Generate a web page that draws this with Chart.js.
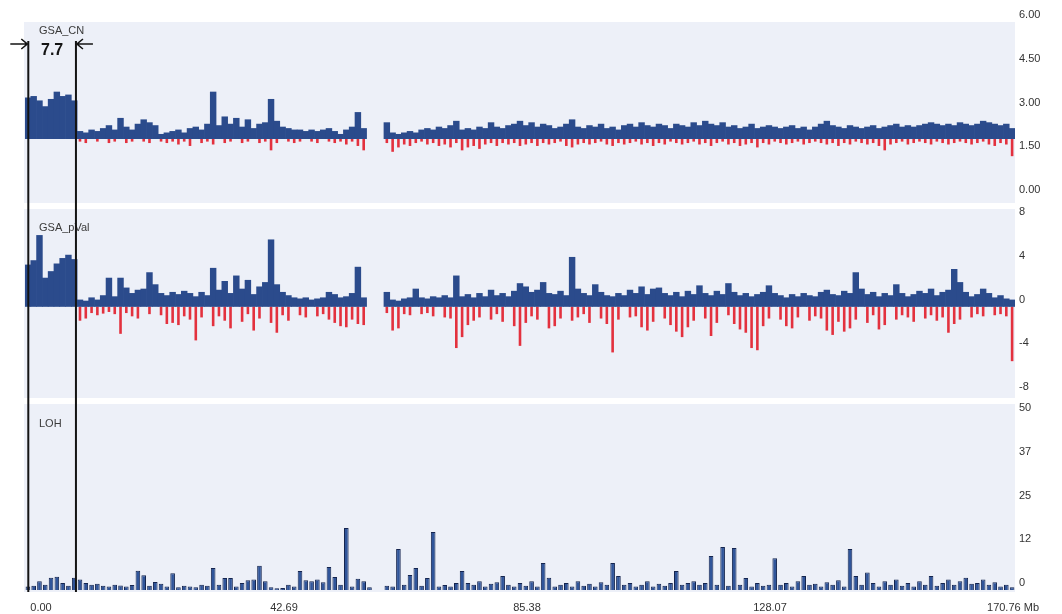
<!DOCTYPE html>
<html>
<head>
<meta charset="utf-8">
<script src="https://cdn.jsdelivr.net/npm/chart.js@4.4.1/dist/chart.umd.min.js"></script>
<style>
  html, body { margin: 0; padding: 0; background: #fff; }
  #wrap { width: 1062px; height: 614px; position: relative; }
</style>
</head>
<body>
<div id="wrap"><canvas id="chart" width="1062" height="614"></canvas></div>
<script>
"use strict";

// one value per 1 Mb bin, bin i covers [i, i+1) Mb; null = no probe
const cnUp = [
  3.4, 3.45, 3.3, 3.1, 3.35, 3.6, 3.45, 3.5, 3.3,
  2.25, 2.2, 2.3, 2.25, 2.35, 2.45, 2.3, 2.7, 2.4, 2.3,
  2.5, 2.65, 2.55, 2.45, 2.15, 2.2, 2.25, 2.3, 2.2, 2.35,
  2.4, 2.3, 2.5, 3.6, 2.45, 2.75, 2.5, 2.7, 2.4, 2.65,
  2.35, 2.5, 2.55, 3.35, 2.6, 2.4, 2.35, 2.3, 2.3, 2.25,
  2.3, 2.25, 2.3, 2.35, 2.25, 2.15, 2.3, 2.4, 2.9, 2.35,
  null, null, null,
  2.55, 2.2, 2.15, 2.2, 2.25, 2.2, 2.3, 2.35, 2.3, 2.4,
  2.35, 2.45, 2.6, 2.3, 2.35, 2.3, 2.4, 2.35, 2.55, 2.4,
  2.35, 2.45, 2.5, 2.6, 2.45, 2.55, 2.4, 2.5, 2.45, 2.35,
  2.4, 2.5, 2.65, 2.4, 2.35, 2.45, 2.4, 2.5, 2.35, 2.4,
  2.3, 2.45, 2.5, 2.4, 2.55, 2.45, 2.4, 2.5, 2.45, 2.35,
  2.5, 2.45, 2.4, 2.55, 2.45, 2.6, 2.5, 2.45, 2.55, 2.4,
  2.45, 2.35, 2.4, 2.5, 2.35, 2.4, 2.45, 2.4, 2.35, 2.4,
  2.45, 2.35, 2.4, 2.3, 2.4, 2.5, 2.6, 2.45, 2.4, 2.35,
  2.45, 2.4, 2.35, 2.4, 2.45, 2.35, 2.4, 2.45, 2.5, 2.4,
  2.45, 2.4, 2.45, 2.5, 2.55, 2.5, 2.45, 2.5, 2.45, 2.55,
  2.5, 2.45, 2.5, 2.6, 2.55, 2.5, 2.45, 2.5, 2.35
];
const cnDown = [
  null, null, null, null, null, null, null, null, null,
  1.9, 1.85, null, 1.9, null, 1.85, 1.9, null, 1.85, 1.9,
  null, 1.9, 1.85, null, 1.9, 1.85, 1.9, 1.8, 1.9, 1.75,
  null, 1.85, 1.9, 1.8, null, 1.85, 1.9, null, 1.85, 1.9,
  null, 1.85, 1.9, 1.6, 1.85, null, 1.9, 1.85, 1.9, null,
  1.9, 1.85, null, 1.9, 1.85, 1.9, 1.8, 1.9, 1.75, 1.6,
  null, null, null,
  1.85, 1.55, 1.7, 1.8, 1.75, 1.85, 1.9, 1.8, 1.85, 1.75,
  1.8, 1.7, 1.85, 1.6, 1.7, 1.75, 1.65, 1.8, 1.85, 1.75,
  1.85, 1.8, 1.85, 1.75, 1.8, 1.85, 1.75, 1.85, 1.8, 1.85,
  1.9, 1.75, 1.7, 1.8, 1.85, 1.8, 1.85, 1.9, 1.8, 1.75,
  1.85, 1.8, 1.85, 1.9, 1.8, 1.85, 1.75, 1.85, 1.8, 1.9,
  1.85, 1.8, 1.85, 1.9, 1.8, 1.85, 1.75, 1.85, 1.9, 1.8,
  1.85, 1.75, 1.8, 1.85, 1.7, 1.85, 1.8, 1.9, 1.85, 1.8,
  1.85, 1.9, 1.8, 1.85, 1.9, 1.85, 1.8, 1.85, 1.75, 1.85,
  1.8, 1.9, 1.85, 1.8, 1.85, 1.75, 1.6, 1.8, 1.85, 1.9,
  1.8, 1.85, 1.9, 1.85, 1.8, 1.9, 1.85, 1.8, 1.85, 1.9,
  1.85, 1.8, 1.85, 1.9, 1.8, 1.75, 1.85, 1.8, 1.4
];
const pvalUp = [
  3.8, 4.2, 6.5, 2.6, 3.2, 3.9, 4.4, 4.7, 4.3,
  0.6, 0.5, 0.8, 0.6, 1.0, 2.6, 0.9, 2.6, 1.7, 1.2,
  1.5, 1.6, 3.1, 2.0, 1.2, 1.0, 1.3, 1.1, 1.4, 1.2,
  0.9, 1.3, 1.0, 3.5, 1.5, 2.3, 1.2, 2.8, 1.6, 2.4,
  1.1, 1.8, 2.2, 6.1, 2.0, 1.3, 1.0, 0.8, 0.7, 0.8,
  0.6, 0.7, 0.8, 1.3, 1.1, 0.8, 0.9, 1.2, 3.6, 0.8,
  null, null, null,
  1.3, 0.6, 0.5, 0.7, 0.8, 1.6, 0.8, 0.7, 0.9, 0.8,
  1.0, 0.8, 2.8, 0.9, 1.1, 0.8, 1.2, 0.9, 1.5, 1.0,
  1.2, 0.9, 1.4, 2.1, 1.8, 1.3, 1.5, 2.2, 1.2, 1.1,
  1.4, 1.0, 4.5, 1.6, 1.2, 1.0, 2.0, 1.3, 1.0, 0.9,
  1.2, 1.0, 1.5, 1.2, 1.8, 1.1, 1.6, 1.7, 1.2, 1.0,
  1.3, 0.9, 1.4, 1.1, 1.9, 1.2, 1.0, 1.4, 1.1, 2.1,
  1.3, 1.0, 1.2, 0.9, 1.1, 1.3, 1.9, 1.2, 1.0, 0.8,
  1.1, 0.9, 1.2, 1.0, 0.9, 1.3, 1.5, 1.1, 1.0, 1.4,
  1.2, 3.1, 1.6, 1.1, 1.3, 0.9, 1.2, 1.0, 2.0, 1.2,
  0.9, 1.1, 1.4, 1.2, 1.6, 1.0, 1.3, 1.5, 3.4, 2.2,
  1.3, 0.9, 1.1, 1.6, 1.2, 0.8, 1.0, 0.7, 0.6
];
const pvalDown = [
  null, null, null, null, null, null, null, null, null,
  -1.3, -1.1, -0.6, -0.8, -0.65, -0.5, -0.7, -2.5, -0.6, -0.9,
  -1.1, null, -0.7, null, -0.8, -1.6, -1.5, -1.7, -0.9, -1.2,
  -3.1, -1.0, null, -1.8, -0.9, -1.3, -2.0, null, -1.4, -0.7,
  -2.2, -1.1, null, -1.5, -2.4, -0.8, -1.3, null, -0.8, -1.0,
  null, -0.9, -0.7, -1.2, -1.5, -1.8, -1.9, -1.2, -1.6, -1.7,
  null, null, null,
  -0.6, -2.2, -2.0, -0.7, -0.8, null, -0.7, -0.6, -0.9, null,
  -1.0, -1.1, -3.8, -2.8, -1.7, -1.3, -1.0, null, -1.2, -0.7,
  -1.4, null, -1.8, -3.6, -1.5, -0.9, -1.2, null, -2.0, -1.8,
  -1.1, null, -1.3, -1.0, -0.7, -1.5, null, -1.1, -1.6, -4.2,
  -1.2, null, -1.0, -0.9, -1.9, -2.2, -1.4, null, -1.1, -1.7,
  -2.3, -2.8, -1.9, -1.3, null, -1.1, -2.7, -1.5, null, -0.8,
  -1.6, -2.1, -2.4, -3.8, -4.0, -1.8, -1.1, null, -1.2, -1.8,
  -2.0, -1.0, null, -1.3, -0.9, -1.1, -2.2, -2.6, -1.4, -2.3,
  -2.0, -1.2, null, -1.5, -0.8, -2.1, -1.7, null, -1.2, -0.8,
  -1.0, -1.4, null, -1.1, -0.8, -1.3, -1.0, -2.4, -1.6, -1.2,
  null, -1.0, -0.7, -0.9, null, -0.8, -0.7, -0.9, -5.0
];
const loh = [
  1.0, 1.2, 2.5, 1.5, 3.5, 3.8, 2.0, 1.2, 3.5,
  3.0, 2.0, 1.5, 1.8, 1.2, 1.0, 1.5, 1.3, 1.0, 1.4,
  5.5, 4.2, 1.2, 2.3, 1.8, 1.0, 4.8, 0.8, 1.2, 1.0,
  0.8, 1.5, 1.2, 6.3, 1.5, 3.4, 3.4, 1.0, 2.0, 2.8,
  3.0, 6.9, 2.5, 0.8, 0.5, 0.6, 1.5, 1.0, 5.4, 2.8,
  2.5, 3.0, 2.2, 6.6, 3.7, 1.5, 17.7, 1.0, 3.2, 2.5,
  0.8, null, null,
  1.2, 1.0, 11.7, 1.5, 4.3, 6.3, 1.2, 3.4, 16.6, 1.0,
  1.4, 1.0, 2.0, 5.4, 2.0, 1.5, 2.5, 1.0, 1.8, 2.2,
  4.0, 1.5, 1.0, 2.0, 1.2, 2.5, 1.0, 7.7, 3.5, 1.0,
  1.5, 2.0, 1.0, 2.5, 1.2, 1.8, 1.0, 2.2, 1.5, 7.7,
  4.0, 1.5, 2.0, 1.0, 1.5, 2.5, 1.0, 1.8, 1.2, 2.0,
  5.4, 1.5, 2.0, 2.5, 1.5, 2.0, 9.7, 1.5, 12.3, 1.2,
  12.0, 1.5, 3.4, 1.0, 2.0, 1.2, 1.5, 9.1, 1.5, 2.0,
  1.0, 2.5, 4.0, 1.5, 1.8, 1.0, 2.2, 1.5, 2.8, 1.0,
  11.7, 4.0, 1.5, 5.0, 2.0, 1.0, 2.5, 1.5, 3.0, 1.2,
  2.0, 1.0, 2.5, 1.5, 4.0, 1.2, 2.0, 3.0, 1.5, 2.5,
  3.5, 1.8, 2.0, 3.0, 1.5, 2.2, 1.0, 1.5, 0.8
];

const cnBase = 2;
const xTickValues = [0, 42.69, 85.38, 128.07, 170.76];
const xTickLabels = ["0.00", "42.69", "85.38", "128.07", "170.76 Mb"];
const cnTicks = [0, 1.5, 3, 4.5, 6];
const pvalTicks = [-8, -4, 0, 4, 8];
const lohTicks = [0, 12.5, 25, 37.5, 50];
const lohTickLabels = ["0", "12", "25", "37", "50"];
const panelNames = ["GSA_CN", "GSA_pVal", "LOH"];
const markStartMb = 0.57;
const markEndMb = 8.8;
const markText = "7.7";

const FONT = "'Liberation Sans', Arial, sans-serif";
const BLUE = "#2b4b8c";
const RED = "#e3313e";
const PANEL_BG = "#edf0f8";

function toPoints(values) {
  const pts = [];
  values.forEach((v, i) => {
    if (v !== null) pts.push({ x: i + 0.5, y: v });
  });
  return pts;
}

function fixedTicks(values) {
  return function (scale) {
    scale.ticks = values.map((v) => ({ value: v }));
  };
}

function rightAxis(weight, min, max, ticks, callback) {
  return {
    type: "linear",
    position: "right",
    stack: "panels",
    stackWeight: weight,
    min: min,
    max: max,
    afterBuildTicks: fixedTicks(ticks),
    afterFit: function (s) { s.width = 47; },
    grid: { display: false, drawTicks: false },
    border: { display: false },
    ticks: {
      padding: 4,
      labelOffset: -7,
      color: "#333",
      font: { family: FONT, size: 11 },
      callback: callback,
    },
  };
}

const panelPlugin = {
  id: "panels",
  beforeDatasetsDraw(chart) {
    const ctx = chart.ctx;
    const area = chart.chartArea;
    const ids = ["yCn", "yP", "yLoh"];
    const insets = [[0, 2], [4, 2], [4, 0]];
    const labelDy = [9, 23, 24];
    ctx.save();
    ids.forEach((id, k) => {
      const s = chart.scales[id];
      ctx.fillStyle = PANEL_BG;
      ctx.fillRect(area.left - 1, s.top + insets[k][0], area.right - area.left + 1,
        s.bottom - s.top - insets[k][0] - insets[k][1]);
      ctx.fillStyle = "#3a3a3a";
      ctx.font = "11px " + FONT;
      ctx.textBaseline = "middle";
      ctx.textAlign = "left";
      ctx.fillText(panelNames[k], 39, s.top + labelDy[k]);
    });
    ctx.restore();
  },
  afterDraw(chart) {
    const ctx = chart.ctx;
    const x = chart.scales.x;
    const x0 = x.getPixelForValue(markStartMb);
    const x1 = x.getPixelForValue(markEndMb);
    const top = 41;
    const bottom = chart.chartArea.bottom;
    const ay = 44;
    ctx.save();
    ctx.strokeStyle = "#141414";
    ctx.lineWidth = 2;
    ctx.beginPath();
    ctx.moveTo(x0, top); ctx.lineTo(x0, bottom);
    ctx.moveTo(x1, top); ctx.lineTo(x1, bottom);
    ctx.stroke();
    ctx.lineWidth = 1.6;
    ctx.beginPath();
    ctx.moveTo(x0 - 18, ay); ctx.lineTo(x0 - 1, ay);
    ctx.moveTo(x0 - 7, ay - 5); ctx.lineTo(x0 - 1, ay); ctx.lineTo(x0 - 7, ay + 5);
    ctx.moveTo(x1 + 17, ay); ctx.lineTo(x1 + 1, ay);
    ctx.moveTo(x1 + 7, ay - 5); ctx.lineTo(x1 + 1, ay); ctx.lineTo(x1 + 7, ay + 5);
    ctx.stroke();
    ctx.fillStyle = "#141414";
    ctx.font = "bold 16px 'Liberation Sans', Arial, sans-serif";
    ctx.textAlign = "center";
    ctx.textBaseline = "middle";
    ctx.fillText(markText, (x0 + x1) / 2, 51);
    ctx.restore();
  },
};

const ctx = document.getElementById("chart").getContext("2d");
new Chart(ctx, {
  type: "bar",
  data: {
    datasets: [
      {
        label: "GSA_CN gain", data: toPoints(cnUp), yAxisID: "yCn", xAxisID: "x",
        base: cnBase, backgroundColor: BLUE, grouped: false,
        barPercentage: 1, categoryPercentage: 1,
      },
      {
        label: "GSA_CN loss", data: toPoints(cnDown), yAxisID: "yCn", xAxisID: "x",
        base: cnBase, backgroundColor: RED, grouped: false,
        barPercentage: 0.45, categoryPercentage: 1,
      },
      {
        label: "GSA_pVal up", data: toPoints(pvalUp), yAxisID: "yP", xAxisID: "x",
        base: 0, backgroundColor: BLUE, grouped: false,
        barPercentage: 1, categoryPercentage: 1,
      },
      {
        label: "GSA_pVal down", data: toPoints(pvalDown), yAxisID: "yP", xAxisID: "x",
        base: 0, backgroundColor: RED, grouped: false,
        barPercentage: 0.45, categoryPercentage: 1,
      },
      {
        label: "LOH", data: toPoints(loh), yAxisID: "yLoh", xAxisID: "x",
        base: 0, backgroundColor: "#30559a", borderColor: "#15254f", borderWidth: 1,
        grouped: false, barPercentage: 0.8, categoryPercentage: 1,
      },
    ],
  },
  options: {
    responsive: false,
    animation: false,
    events: [],
    layout: { padding: { top: 22, left: 25, right: 0, bottom: 0 } },
    plugins: { legend: { display: false }, tooltip: { enabled: false } },
    scales: {
      x: {
        type: "linear", min: 0, max: 171, display: false, offset: false,
        grid: { offset: false },
      },
      xt: {
        type: "linear",
        position: "bottom",
        min: -2.81,
        max: 171.11,
        offset: false,
        afterBuildTicks: fixedTicks(xTickValues),
        afterFit: function (s) { s.height = 22; },
        grid: { display: false, drawTicks: false, offset: false },
        border: { display: false },
        ticks: {
          autoSkip: false,
          maxRotation: 0,
          padding: 9,
          color: "#333",
          font: { family: FONT, size: 11 },
          callback: (v) => xTickLabels[xTickValues.indexOf(v)],
        },
      },
      yCn: rightAxis(183, -0.274, 6, cnTicks, (v) => v.toFixed(2)),
      yP: rightAxis(195, -8.55, 9.28, pvalTicks, (v) => String(v)),
      yLoh: rightAxis(192, -0.57, 54.29, lohTicks, (v) => lohTickLabels[lohTicks.indexOf(v)]),
    },
  },
  plugins: [panelPlugin],
});
</script>
</body>
</html>
